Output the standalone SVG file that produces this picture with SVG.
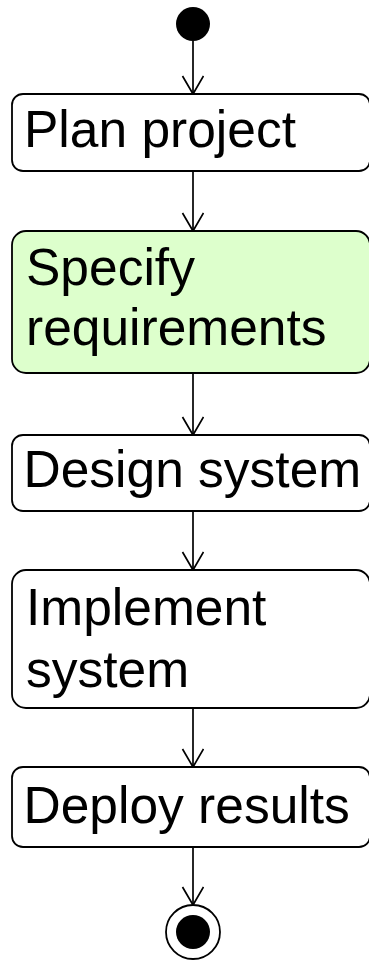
<svg xmlns="http://www.w3.org/2000/svg" width="369" height="962" viewBox="0 0 369 962">
<defs>
<style>
.box{fill:#ffffff;stroke:#000;stroke-width:1.8}
.hl{fill:#ddffcc}
.t{font-family:"Liberation Sans",Arial,sans-serif;font-size:51.5px;fill:#000}
.c{stroke:#000;stroke-width:1.7;fill:none}
</style>
<marker id="arr" markerWidth="24" markerHeight="24" refX="20" refY="11" orient="auto" markerUnits="userSpaceOnUse">
<path d="M2,0.5 L20,11 L2,21.5" fill="none" stroke="#000" stroke-width="1.7"/>
</marker>
</defs>
<g id="connectors">
<line class="c" x1="193" y1="41" x2="193" y2="94" marker-end="url(#arr)"/>
<line class="c" x1="193" y1="171" x2="193" y2="231" marker-end="url(#arr)"/>
<line class="c" x1="193" y1="373" x2="193" y2="435" marker-end="url(#arr)"/>
<line class="c" x1="193" y1="511" x2="193" y2="570" marker-end="url(#arr)"/>
<line class="c" x1="193" y1="708" x2="193" y2="767" marker-end="url(#arr)"/>
<line class="c" x1="193" y1="847" x2="193" y2="905" marker-end="url(#arr)"/>
</g>
<g id="start"><circle cx="193" cy="24" r="17" fill="#000"/></g>
<g id="plan"><rect class="box" x="12" y="94" width="358" height="77" rx="11"/><text class="t" x="24" y="147">Plan project</text></g>
<g id="specify"><rect class="box hl" x="12" y="231" width="358" height="142" rx="14"/><text class="t" x="26" y="285">Specify</text><text class="t" x="26" y="345">requirements</text></g>
<g id="design"><rect class="box" x="12" y="435" width="358" height="76" rx="11"/><text class="t" x="23.5" y="487">Design system</text></g>
<g id="implement"><rect class="box" x="12" y="570" width="358" height="138" rx="14"/><text class="t" x="26" y="625">Implement</text><text class="t" x="26" y="687">system</text></g>
<g id="deploy"><rect class="box" x="12" y="767" width="358" height="80" rx="11"/><text class="t" x="23.5" y="823">Deploy results</text></g>
<g id="end"><circle cx="193" cy="932" r="27" fill="#fff" stroke="#000" stroke-width="1.8"/><circle cx="193" cy="932" r="17" fill="#000"/></g>
</svg>
